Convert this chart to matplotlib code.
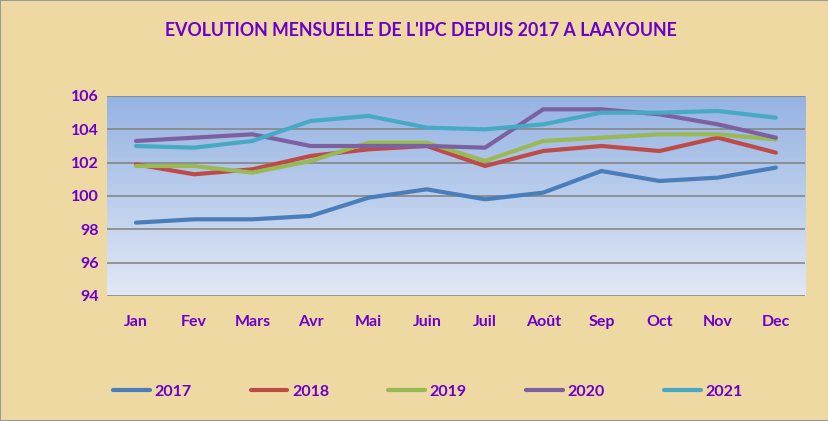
import matplotlib.pyplot as plt
import numpy as np
from matplotlib.patches import Rectangle

mois = ['Jan', 'Fev', 'Mars', 'Avr', 'Mai', 'Juin', 'Juil', 'Août', 'Sep', 'Oct', 'Nov', 'Dec']
ipc_2017 = [98.4, 98.6, 98.6, 98.8, 99.9, 100.4, 99.8, 100.2, 101.5, 100.9, 101.1, 101.7]
ipc_2018 = [101.9, 101.3, 101.6, 102.4, 102.8, 103.0, 101.8, 102.7, 103.0, 102.7, 103.5, 102.6]
ipc_2019 = [101.8, 101.8, 101.4, 102.1, 103.2, 103.2, 102.1, 103.3, 103.5, 103.7, 103.7, 103.4]
ipc_2020 = [103.3, 103.5, 103.7, 103.0, 103.0, 103.0, 102.9, 105.2, 105.2, 104.9, 104.3, 103.5]
ipc_2021 = [103.0, 102.9, 103.3, 104.5, 104.8, 104.1, 104.0, 104.3, 105.0, 105.0, 105.1, 104.7]

series = [('2017', ipc_2017, '#4A7EBB'),
          ('2018', ipc_2018, '#BE4B48'),
          ('2019', ipc_2019, '#98B954'),
          ('2020', ipc_2020, '#7D60A0'),
          ('2021', ipc_2021, '#46AAC5')]

violet = '#6A00CC'
plt.rcParams['font.family'] = ['Lato', 'DejaVu Sans']
plt.rcParams['font.weight'] = 'bold'

fig = plt.figure(figsize=(8.29, 4.21), dpi=100, facecolor='#EFD9A2')
fig.patches.append(Rectangle((0, 0), 1, 1, transform=fig.transFigure, fill=False,
                             edgecolor='#9A9A9A', linewidth=1.5))

ax = fig.add_axes([0.129, 0.297, 0.842, 0.475])

# fond degrade bleu de la zone de tracé
grad = np.linspace(0, 1, 256).reshape(-1, 1)
ax.imshow(grad, extent=[0, 1, 0, 1], transform=ax.transAxes, aspect='auto',
          cmap=plt.matplotlib.colors.LinearSegmentedColormap.from_list('bg', ['#E1E8F5', '#95B3E3']),
          origin='lower', zorder=0)

x = np.arange(len(mois))
for nom, vals, col in series:
    ax.plot(x, vals, color=col, linewidth=3, label=nom, zorder=3, solid_capstyle='round')

ax.set_xlim(-0.5, len(mois) - 0.5)
ax.set_ylim(94, 106)
ax.set_yticks(np.arange(94, 107, 2))
ax.set_xticks(x)
ax.set_xticklabels(mois)
ax.grid(axis='y', color='#868686', linewidth=1.2, zorder=1)
ax.set_axisbelow(False)
for s in ax.spines.values():
    s.set_visible(False)
ax.tick_params(length=0, labelsize=11.5, labelcolor=violet, pad=6)
ax.tick_params(axis='x', pad=14)
for lab in ax.get_xticklabels() + ax.get_yticklabels():
    lab.set_fontweight('bold')

fig.text(0.508, 0.928, "EVOLUTION MENSUELLE DE L'IPC DEPUIS 2017 A LAAYOUNE",
         ha='center', va='center', fontsize=12.8, color=violet, fontweight='bold')

leg = fig.legend(loc='center', bbox_to_anchor=(0.516, 0.07), ncol=5, frameon=False,
                 handlelength=2.3, columnspacing=3.7, handletextpad=0.3, fontsize=11.5)
for t in leg.get_texts():
    t.set_color(violet)
    t.set_fontweight('bold')

plt.savefig('out.png', dpi=100, facecolor=fig.get_facecolor())
